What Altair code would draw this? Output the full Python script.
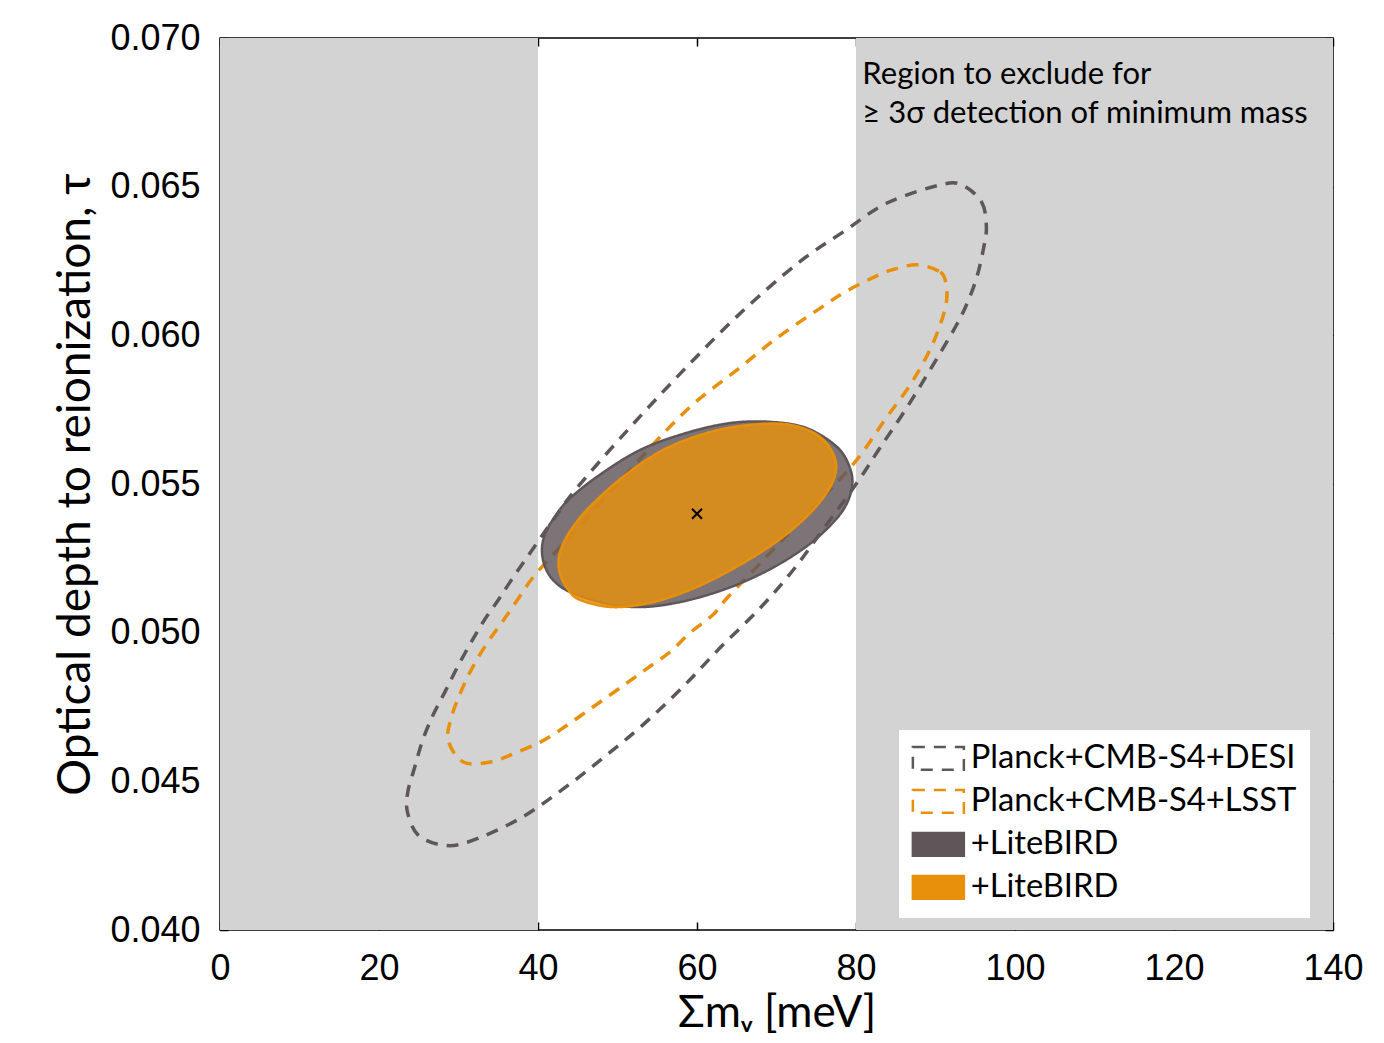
import altair as alt
import pandas as pd

# ---------------- data ----------------
# shaded exclusion regions along the x axis (meV)
excl_start = [0, 80]
excl_end = [40, 140]
excl_ylo = [0.040, 0.040]
excl_yhi = [0.070, 0.070]

# Planck+CMB-S4+DESI (dashed grey contour)
desi_x = [93.3, 95.8, 96.4, 96.0, 95.2, 94.0, 92.5, 89.3, 86.2, 83.0, 80.1, 75.8, 71.9,
          67.7, 62.9, 58.2, 53.2, 48.2, 43.0, 37.4, 31.2, 27.9, 24.9, 23.6, 23.6, 24.5,
          25.5, 26.8, 28.3, 29.8, 31.4, 33.1, 35.0, 36.9, 39.0, 41.9, 44.9, 51.3, 58.1,
          65.2, 72.7, 78.4, 83.9, 90.6]
desi_y = [0.06506, 0.06448, 0.06364, 0.06287, 0.06196, 0.06109, 0.06028, 0.05883, 0.05749,
          0.05621, 0.05503, 0.05345, 0.05204, 0.05076, 0.04949, 0.04817, 0.04690, 0.04579,
          0.04471, 0.04370, 0.04296, 0.04286, 0.04320, 0.04394, 0.04461, 0.04548, 0.04639,
          0.04723, 0.04801, 0.04881, 0.04959, 0.05036, 0.05110, 0.05187, 0.05268, 0.05379,
          0.05487, 0.05682, 0.05877, 0.06068, 0.06243, 0.06348, 0.06445, 0.06506]

# Planck+CMB-S4+LSST (dashed orange contour)
lsst_x = [87.7, 90.6, 91.3, 91.4, 90.8, 89.3, 86.8, 83.6, 80.1, 75.5, 70.4, 63.9, 62.0,
          59.1, 56.6, 53.8, 51.2, 48.2, 45.5, 42.8, 40.3, 37.1, 34.0, 30.6, 28.7, 29.2,
          30.4, 31.8, 33.6, 35.5, 37.4, 39.4, 42.1, 44.9, 49.7, 55.0, 59.7, 65.0, 70.2,
          75.7, 78.4, 81.5, 84.5]
lsst_y = [0.06237, 0.06213, 0.06176, 0.06119, 0.06052, 0.05951, 0.05833, 0.05715, 0.05581,
          0.05446, 0.05302, 0.05120, 0.05060, 0.04999, 0.04935, 0.04881, 0.04831, 0.04774,
          0.04723, 0.04673, 0.04632, 0.04595, 0.04565, 0.04565, 0.04639, 0.04723, 0.04807,
          0.04885, 0.04965, 0.05036, 0.05110, 0.05187, 0.05268, 0.05349, 0.05490, 0.05648,
          0.05773, 0.05883, 0.05994, 0.06095, 0.06142, 0.06186, 0.06220]

# +LiteBIRD on DESI (filled grey contour)
desi_lb_x = [40.5, 41.0, 42.1, 43.8, 47.4, 52.8, 58.7, 64.2, 69.2, 73.8, 77.6, 79.2, 79.5,
             78.4, 75.8, 72.6, 68.3, 63.3, 57.9, 52.8, 48.2, 44.0, 41.9, 40.8]
desi_lb_y = [0.05285, 0.05339, 0.05389, 0.05446, 0.05524, 0.05614, 0.05672, 0.05705, 0.05709,
             0.05688, 0.05625, 0.05557, 0.05490, 0.05413, 0.05335, 0.05268, 0.05201, 0.05144,
             0.05103, 0.05086, 0.05100, 0.05137, 0.05177, 0.05228]

# +LiteBIRD on LSST (filled orange contour)
lsst_lb_x = [42.6, 43.1, 44.3, 46.5, 50.7, 55.7, 61.3, 66.7, 71.7, 75.5, 77.4, 77.0, 74.6,
             70.8, 65.8, 60.0, 54.5, 49.4, 45.3, 43.8, 42.8]
lsst_lb_y = [0.05245, 0.05295, 0.05352, 0.05423, 0.05524, 0.05614, 0.05672, 0.05699, 0.05699,
             0.05658, 0.05581, 0.05503, 0.05413, 0.05322, 0.05234, 0.05154, 0.05103, 0.05086,
             0.05110, 0.05144, 0.05194]

# fiducial point
center_x = [60.0]
center_y = [0.054]

# annotation
note_x = [80.8, 80.8]
note_y = [0.06876, 0.06745]
note_text = ["Region to exclude for", "\u2265 3\u03c3 detection of minimum mass"]

# axes
x_ticks = [0, 20, 40, 60, 80, 100, 120, 140]
y_ticks = [0.040, 0.045, 0.050, 0.055, 0.060, 0.065, 0.070]

series_keys = ["desi", "lsst", "desi_lb", "lsst_lb"]
series_colors = ["#5f5659", "#e8900c", "#5f5659", "#e8900c"]
series_fills = ["transparent", "transparent", "#5f5659", "#e8900c"]
series_dash = [[12, 9], [12, 9], [1, 0], [1, 0]]

# ---------------- build tables ----------------
rows = []
for key, xs, ys in [("desi", desi_x, desi_y), ("lsst", lsst_x, lsst_y),
                    ("desi_lb", desi_lb_x, desi_lb_y), ("lsst_lb", lsst_lb_x, lsst_lb_y)]:
    for i, (xv, yv) in enumerate(zip(xs, ys)):
        rows.append({"series": key, "order": i, "x": xv, "y": yv})
contours = pd.DataFrame(rows)

excl = pd.DataFrame({"start": excl_start, "end": excl_end, "ylo": excl_ylo, "yhi": excl_yhi})
center = pd.DataFrame({"x": center_x, "y": center_y})
notes = pd.DataFrame({"x": note_x, "y": note_y, "text": note_text})

W, H = 1113, 892

x_scale = alt.Scale(domain=[0, 140], nice=False, zero=False)
y_scale = alt.Scale(domain=[0.040, 0.070], nice=False, zero=False)

stroke_scale = alt.Scale(domain=series_keys, range=series_colors)
fill_scale = alt.Scale(domain=series_keys, range=series_fills)
dash_scale = alt.Scale(domain=series_keys, range=series_dash)

label_expr = ("datum.label == 'desi' ? 'Planck+CMB-S4+DESI' : "
              "datum.label == 'lsst' ? 'Planck+CMB-S4+LSST' : '+LiteBIRD'")

legend = alt.Legend(
    title=None, orient="none", legendX=679, legendY=692,
    symbolType="M-2,-0.9H2V0.9H-2Z", symbolSize=650, symbolStrokeWidth=2.5,
    symbolOffset=11, labelOffset=16, labelLimit=0,
    labelExpr=label_expr, labelFont="Lato", labelFontSize=32.7, labelColor="black",
    rowPadding=8, padding=12, fillColor="white", strokeColor="white",
)

bottom_axis = alt.Axis(
    orient="bottom", values=x_ticks, format="d", offset=-8, tickSize=8, tickWidth=1.5,
    tickColor="black", domain=False, grid=False, labelFont="Liberation Sans",
    labelFontSize=36, labelColor="black", labelPadding=21, labelFlush=False,
    title="\u03a3m\u1d65 [meV]", titleFont="Lato", titleFontSize=44,
    titleFontWeight="normal", titleColor="black", titleX=W / 2, titleY=91,
    titleBaseline="middle", titleAlign="center",
)
left_axis = alt.Axis(
    orient="left", values=y_ticks, format=".3f", offset=-8, tickSize=8, tickWidth=1.5,
    tickColor="black", domain=False, grid=False, labelFont="Liberation Sans",
    labelFontSize=36, labelColor="black", labelPadding=20, labelFlush=False,
    title="Optical depth to reionization, \u03c4", titleFont="Lato", titleFontSize=46,
    titleFontWeight="normal", titleColor="black", titleX=-153, titleY=H / 2,
    titleBaseline="middle", titleAlign="center", titleAngle=270,
)
top_axis = alt.Axis(orient="top", values=x_ticks, offset=-8, tickSize=8, tickWidth=1.5,
                    tickColor="black", domain=False, grid=False, labels=False, title=None)
right_axis = alt.Axis(orient="right", values=y_ticks, offset=-8, tickSize=8, tickWidth=1.5,
                      tickColor="black", domain=False, grid=False, labels=False, title=None)

bg = alt.Chart(excl).mark_rect(color="#d3d3d3").encode(
    x=alt.X("start:Q", scale=x_scale, axis=bottom_axis),
    x2="end:Q",
    y=alt.Y("ylo:Q", scale=y_scale, axis=left_axis),
    y2="yhi:Q",
)

dashed = alt.Chart(contours).transform_filter(
    alt.FieldOneOfPredicate(field="series", oneOf=["desi", "lsst"])
).mark_line(interpolate="cardinal-closed", strokeWidth=3.5).encode(
    x=alt.X("x:Q", scale=x_scale, axis=None),
    y=alt.Y("y:Q", scale=y_scale, axis=None),
    order="order:Q",
    stroke=alt.Stroke("series:N", scale=stroke_scale, legend=legend),
    fill=alt.Fill("series:N", scale=fill_scale, legend=legend),
    strokeDash=alt.StrokeDash("series:N", scale=dash_scale, legend=legend),
    detail="series:N",
)

filled = alt.Chart(contours).transform_filter(
    alt.FieldOneOfPredicate(field="series", oneOf=["desi_lb", "lsst_lb"])
).mark_line(interpolate="cardinal-closed", filled=True, strokeWidth=2.5, fillOpacity=0.82).encode(
    x=alt.X("x:Q", scale=x_scale, axis=None),
    y=alt.Y("y:Q", scale=y_scale, axis=None),
    order="order:Q",
    stroke=alt.Stroke("series:N", scale=stroke_scale, legend=legend),
    fill=alt.Fill("series:N", scale=fill_scale, legend=legend),
    strokeDash=alt.StrokeDash("series:N", scale=dash_scale, legend=legend),
    detail="series:N",
)

cross = alt.Chart(center).mark_point(
    shape="M-1,-1L1,1M-1,1L1,-1", filled=False, size=100, strokeWidth=2, color="black", opacity=1
).encode(
    x=alt.X("x:Q", scale=x_scale, axis=top_axis),
    y=alt.Y("y:Q", scale=y_scale, axis=right_axis),
)

text = alt.Chart(notes).mark_text(
    align="left", baseline="middle", font="Lato", fontSize=31, color="black"
).encode(
    x=alt.X("x:Q", scale=x_scale, axis=None),
    y=alt.Y("y:Q", scale=y_scale, axis=None),
    text="text:N",
)

chart = alt.layer(bg, dashed, filled, cross, text).resolve_axis(
    x="independent", y="independent"
).properties(
    width=W, height=H,
    autosize=alt.AutoSizeParams(type="none"),
    padding={"left": 212, "top": 30, "right": 43, "bottom": 105},
).configure_view(stroke="black", strokeWidth=1.5, fill="white")

chart.save("out.html", embed_options={"renderer": "svg", "actions": False})
